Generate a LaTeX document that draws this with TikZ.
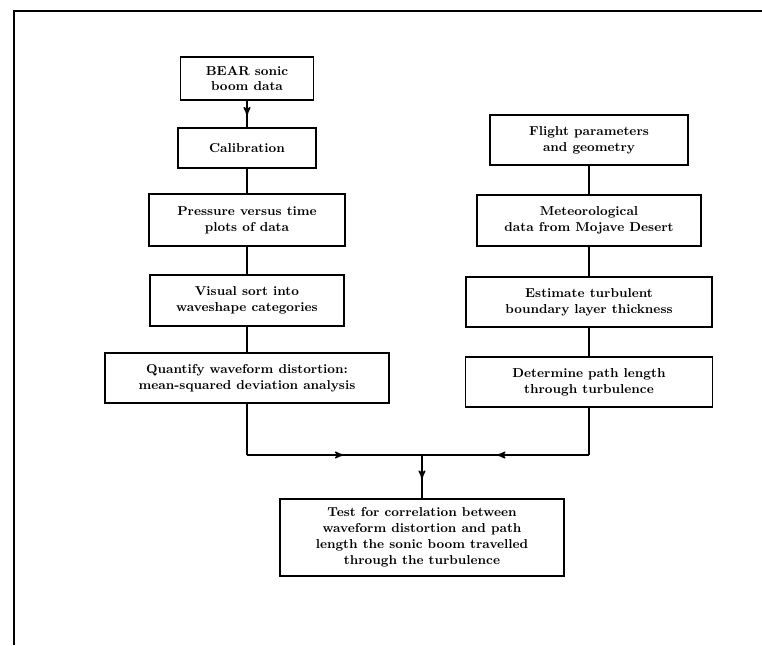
\documentclass[tikz,border=0pt]{standalone}
\usepackage{tikz}
\usetikzlibrary{arrows, decorations.markings}

\tikzset{
  stepbox/.style={draw, line width=1.1pt, align=center, inner sep=1pt,
    font=\bfseries\fontsize{9.2}{11.3}\selectfont},
  midarrow/.style={decoration={markings, mark=at position 0.55 with {\arrow{>}}},
    postaction={decorate}}
}

\begin{document}
\begin{tikzpicture}[> = stealth', x=0.025cm, y=-0.025cm, line width=1.1pt]
		\useasboundingbox (0,0) rectangle (762,645);
		\draw (14,645) -- (14,11) -- (762,11);
		
		% left column
		\node [stepbox, minimum width=3.325cm, minimum height=1.075cm] (bear) at (247,78.5) {BEAR sonic\\boom data};
		\node [stepbox, minimum width=3.45cm, minimum height=1cm] (calib) at (247,148) {Calibration};
		\node [stepbox, minimum width=4.9cm, minimum height=1.3cm] (press) at (247,220) {Pressure versus time\\plots of data};
		\node [stepbox, minimum width=4.85cm, minimum height=1.275cm] (sort) at (247,300.5) {Visual sort into\\waveshape categories};
		\node [stepbox, minimum width=7.1cm, minimum height=1.25cm] (quant) at (247,378) {Quantify waveform distortion:\\mean-squared deviation analysis};
		
		% right column
		\node [stepbox, minimum width=4.95cm, minimum height=1.25cm] (flight) at (589,140) {Flight parameters\\and geometry};
		\node [stepbox, minimum width=5.6cm, minimum height=1.275cm] (meteo) at (589,220.5) {Meteorological\\data from Mojave Desert};
		\node [stepbox, minimum width=6.15cm, minimum height=1.25cm] (turb) at (589,302) {Estimate turbulent\\boundary layer thickness};
		\node [stepbox, minimum width=6.175cm, minimum height=1.25cm] (path) at (589,382) {Determine path length\\through turbulence};
		
		\node [stepbox, minimum width=7.1cm, minimum height=1.925cm] (test) at (422,537.5) {Test for correlation between\\waveform distortion and path\\length the sonic boom travelled\\through the turbulence};
		
		\draw [midarrow] (bear) -- (calib);
		\draw (calib) -- (press);
		\draw (press) -- (sort);
		\draw (sort) -- (quant);
		\draw (flight) -- (meteo);
		\draw (meteo) -- (turb);
		\draw (turb) -- (path);
		
		\coordinate (join) at (422,455);
		\coordinate (lcorner) at (quant.south |- join);
		\coordinate (rcorner) at (path.south |- join);
		\draw (quant) -- (lcorner);
		\draw (path) -- (rcorner);
		\draw [midarrow] (lcorner) -- (join);
		\draw [midarrow] (rcorner) -- (join);
		\draw [midarrow] (join) -- (test);
	\end{tikzpicture}
\end{document}
